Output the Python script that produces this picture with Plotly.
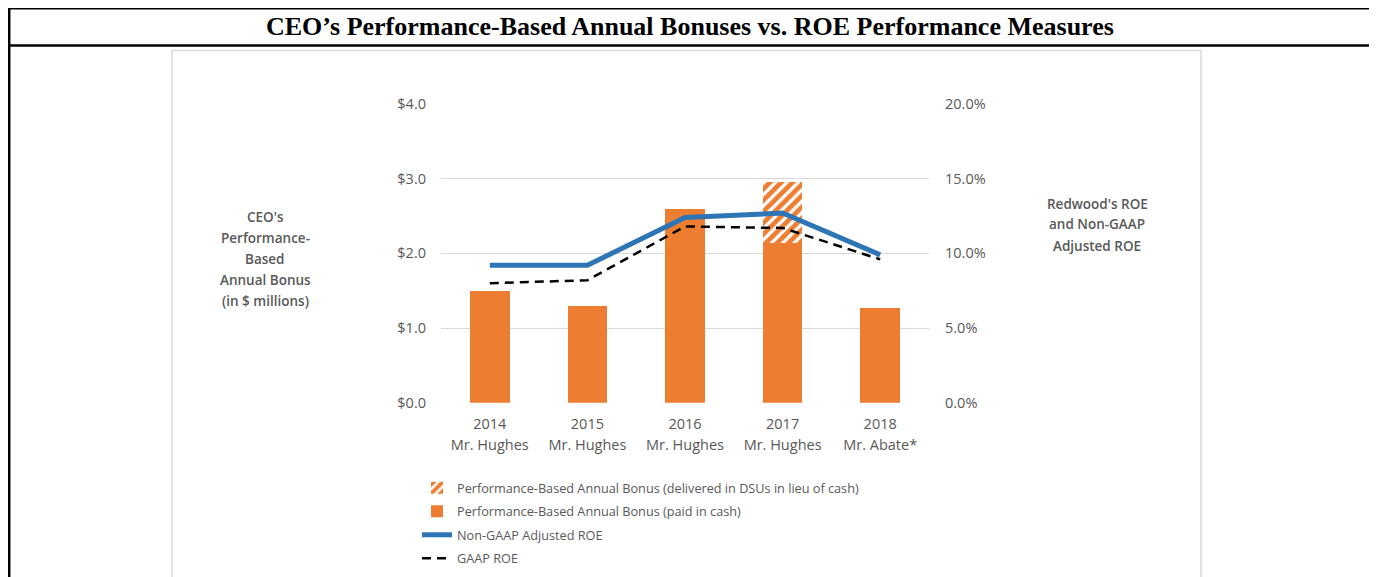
import plotly.graph_objects as go

# ---- data ----
years = ["2014", "2015", "2016", "2017", "2018"]
executives = ["Mr. Hughes", "Mr. Hughes", "Mr. Hughes", "Mr. Hughes", "Mr. Abate*"]
bonus_cash = [1.50, 1.30, 2.60, 2.14, 1.27]          # $ millions
bonus_dsu = [None, None, None, 0.82, None]            # $ millions, stacked on cash
nongaap_roe = [9.2, 9.2, 12.4, 12.7, 9.9]            # %
gaap_roe = [8.0, 8.2, 11.8, 11.7, 9.6]               # %
left_ticks = [0, 1, 2, 3, 4]
right_ticks = [0, 5, 10, 15, 20]

title_text = "CEO\u2019s Performance-Based Annual Bonuses vs. ROE Performance Measures"
left_label = ["CEO's", "Performance-", "Based", "Annual Bonus", "(in $ millions)"]
right_label = ["Redwood's ROE", "and Non-GAAP", "Adjusted ROE"]

# the page body adds an 8px offset; size the figure so it fits the 1377x577 window
OFF = 8
W, H = 1377 - OFF, 577 - OFF
ORANGE = "#ED7D31"
BLUE = "#2E75B6"
GRAY_TXT = "#595959"
FONT = "Open Sans"

def px_x(v):
    return (v - OFF) / W

def px_y(v):
    return 1 - (v - OFF) / H

x_idx = list(range(len(years)))

fig = go.Figure()

fig.add_trace(go.Bar(
    x=x_idx, y=bonus_cash, name="Performance-Based Annual Bonus (paid in cash)",
    marker=dict(color=ORANGE, line=dict(width=0)), width=0.405, legendrank=2, legendgroup="g2",
))
fig.add_trace(go.Bar(
    x=x_idx, y=bonus_dsu, name="Performance-Based Annual Bonus (delivered in DSUs in lieu of cash)",
    marker=dict(color="white", line=dict(width=0),
                pattern=dict(shape="/", fgcolor=ORANGE, bgcolor="white", size=8, solidity=0.6,
                             fgopacity=1)),
    width=0.405, legendrank=1, legendgroup="g1",
))
fig.add_trace(go.Scatter(
    x=x_idx, y=nongaap_roe, name="Non-GAAP Adjusted ROE", yaxis="y2", mode="lines",
    line=dict(color=BLUE, width=5), legendrank=3, legendgroup="g3",
))
fig.add_trace(go.Scatter(
    x=x_idx, y=gaap_roe, name="GAAP ROE", xaxis="x2", yaxis="y2", mode="lines",
    line=dict(color="black", width=2.5, dash="9px,6px"), legendrank=4, legendgroup="g4",
))

shapes = [
    # outer table borders
    dict(type="line", xref="paper", yref="paper", x0=px_x(OFF), x1=1, y0=px_y(8.7), y1=px_y(8.7),
         line=dict(color="black", width=1.5)),
    dict(type="line", xref="paper", yref="paper", x0=px_x(OFF), x1=1, y0=px_y(45.5), y1=px_y(45.5),
         line=dict(color="black", width=2.5)),
    dict(type="line", xref="paper", yref="paper", x0=px_x(9.2), x1=px_x(9.2), y0=1, y1=0,
         line=dict(color="black", width=2.5)),
    # inner chart frame
    dict(type="rect", xref="paper", yref="paper", x0=px_x(172), x1=px_x(1201), y0=px_y(50.5), y1=-0.05,
         line=dict(color="#d9d9d9", width=1.5)),
]

annotations = [
    dict(text=f"<b>{title_text}</b>", xref="paper", yref="paper", x=px_x(690), y=px_y(27),
         xanchor="center", yanchor="middle", showarrow=False,
         font=dict(family="Liberation Serif", size=26, color="black")),
]
for i, line in enumerate(left_label):
    annotations.append(dict(text=line, xref="paper", yref="paper", x=px_x(265), y=px_y(217.5 + i * 20.8),
                            xanchor="center", yanchor="middle", showarrow=False,
                            font=dict(family=FONT, size=13.5, color=GRAY_TXT, weight=600)))
for i, line in enumerate(right_label):
    annotations.append(dict(text=line, xref="paper", yref="paper", x=px_x(1097), y=px_y(203.5 + i * 21),
                            xanchor="center", yanchor="middle", showarrow=False,
                            font=dict(family=FONT, size=13.5, color=GRAY_TXT, weight=600)))

x_dom = [px_x(441), px_x(929)]
y_dom = [px_y(402.7), px_y(104)]
tick_font = dict(family=FONT, size=14.5, color=GRAY_TXT)

fig.update_layout(
    width=W, height=H,
    margin=dict(l=0, r=0, t=0, b=0, autoexpand=False),
    paper_bgcolor="white", plot_bgcolor="white",
    barmode="stack", bargap=0.595,
    font=dict(family=FONT, color=GRAY_TXT),
    xaxis=dict(domain=x_dom, range=[-0.5, 4.5], tickvals=x_idx, ticktext=years,
               showgrid=False, zeroline=False, showline=False, ticks="", automargin=False,
               tickfont=tick_font, ticklabelstandoff=11),
    xaxis2=dict(domain=x_dom, range=[-0.5, 4.5], tickvals=x_idx, ticktext=executives,
                overlaying="x", anchor="y2", side="bottom",
                showgrid=False, zeroline=False, showline=False, ticks="", automargin=False,
                tickfont=tick_font, ticklabelstandoff=32),
    yaxis=dict(domain=y_dom, range=[0, 4], tickvals=left_ticks, tickformat="$.1f",
               showgrid=True, gridcolor="#d9d9d9", gridwidth=1, zeroline=False, showline=False, ticks="",
               automargin=False, tickfont=tick_font, ticklabelstandoff=14),
    yaxis2=dict(domain=y_dom, range=[0, 20], tickvals=right_ticks,
                ticktext=[f"{v:.1f}%" for v in right_ticks],
                overlaying="y", side="right", showgrid=False, zeroline=False, automargin=False,
                showline=False, ticks="", anchor="x",
                tickfont=tick_font, ticklabelstandoff=15),
    legend=dict(x=px_x(417), y=px_y(473), xanchor="left", yanchor="top", orientation="v",
                font=dict(family=FONT, size=12.7, color=GRAY_TXT), bgcolor="rgba(0,0,0,0)",
                itemwidth=30, traceorder="grouped", tracegroupgap=4),
    showlegend=True,
    shapes=shapes,
    annotations=annotations,
)

fig.write_html("out.html")
